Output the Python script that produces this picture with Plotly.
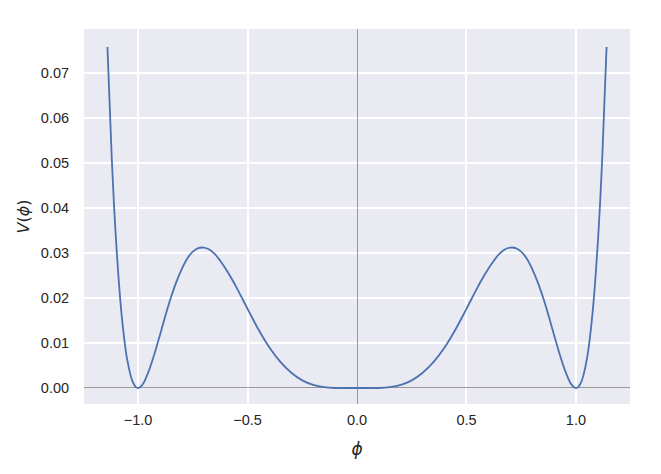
import plotly.graph_objects as go

phi = [-1.14, -1.12, -1.10, -1.075, -1.05, -1.025, -1.01, -1.0, -0.99, -0.975, -0.95, -0.925,
       -0.90, -0.875, -0.85, -0.825, -0.80, -0.775, -0.75, -0.725, -0.70, -0.675, -0.65,
       -0.625, -0.60, -0.575, -0.55, -0.50, -0.45, -0.40, -0.35,
       -0.30, -0.25, -0.20, -0.15, -0.10, -0.05, 0.0,
       0.05, 0.10, 0.15, 0.20, 0.25, 0.30, 0.35, 0.40, 0.45, 0.50, 0.55, 0.575, 0.60,
       0.625, 0.65, 0.675, 0.70, 0.725, 0.75, 0.775, 0.80, 0.825, 0.85, 0.875, 0.90,
       0.925, 0.95, 0.975, 0.99, 1.0, 1.01, 1.025, 1.05, 1.075, 1.10, 1.12, 1.14]
V = [0.0758, 0.0509, 0.0323, 0.0162, 0.0064, 0.0014, 0.0002, 0.0, 0.0002, 0.0011, 0.0039, 0.0076,
     0.0118, 0.0161, 0.0201, 0.0236, 0.0265, 0.0288, 0.0303, 0.0311, 0.0312, 0.0308, 0.0298,
     0.0283, 0.0265, 0.0245, 0.0223, 0.0176, 0.0130, 0.0090, 0.0058,
     0.0034, 0.0017, 0.0007, 0.0002, 0.0000, 0.0, 0.0,
     0.0, 0.0000, 0.0002, 0.0007, 0.0017, 0.0034, 0.0058, 0.0090, 0.0130, 0.0176, 0.0223, 0.0245,
     0.0265, 0.0283, 0.0298, 0.0308, 0.0312, 0.0311, 0.0303, 0.0288, 0.0265, 0.0236, 0.0201,
     0.0161, 0.0118, 0.0076, 0.0039, 0.0011, 0.0002, 0.0, 0.0002, 0.0014, 0.0064, 0.0162,
     0.0323, 0.0509, 0.0758]

x_ticks = [-1.0, -0.5, 0.0, 0.5, 1.0]
x_labels = ["\u22121.0", "\u22120.5", "0.0", "0.5", "1.0"]
y_ticks = [0.0, 0.01, 0.02, 0.03, 0.04, 0.05, 0.06, 0.07]
y_labels = ["0.00", "0.01", "0.02", "0.03", "0.04", "0.05", "0.06", "0.07"]

fig = go.Figure()
fig.add_trace(go.Scatter(x=phi, y=V, mode="lines",
                         line=dict(color="#4C72B0", width=1.8, shape="spline", smoothing=1)))

# page has an 8px body margin, so the margins are shifted to compensate
fig.update_layout(
    width=661, height=474,
    margin=dict(l=76, r=39, t=21, b=78),
    paper_bgcolor="white", plot_bgcolor="#EAEAF2",
    font=dict(family="Liberation Sans", size=14.5, color="#262626"),
    showlegend=False,
)
fig.update_xaxes(range=[-1.247, 1.247], tickvals=x_ticks, ticktext=x_labels,
                 showgrid=True, gridcolor="white", gridwidth=1.5,
                 zeroline=True, zerolinecolor="#999999", zerolinewidth=1,
                 ticks="outside", ticklen=3, tickcolor="rgba(0,0,0,0)",
                 showline=False,
                 title=dict(text="<i>\u03d5</i>", font=dict(family="DejaVu Sans", size=17),
                            standoff=15))
fig.update_yaxes(range=[-0.00356, 0.0798], tickvals=y_ticks, ticktext=y_labels,
                 showgrid=True, gridcolor="white", gridwidth=1.5,
                 zeroline=True, zerolinecolor="#999999", zerolinewidth=1,
                 ticks="outside", ticklen=11, tickcolor="rgba(0,0,0,0)",
                 showline=False,
                 title=dict(text="<i>V</i>(<i>\u03d5</i>)", font=dict(family="DejaVu Sans", size=16),
                            standoff=7))

fig.write_html("out.html")
